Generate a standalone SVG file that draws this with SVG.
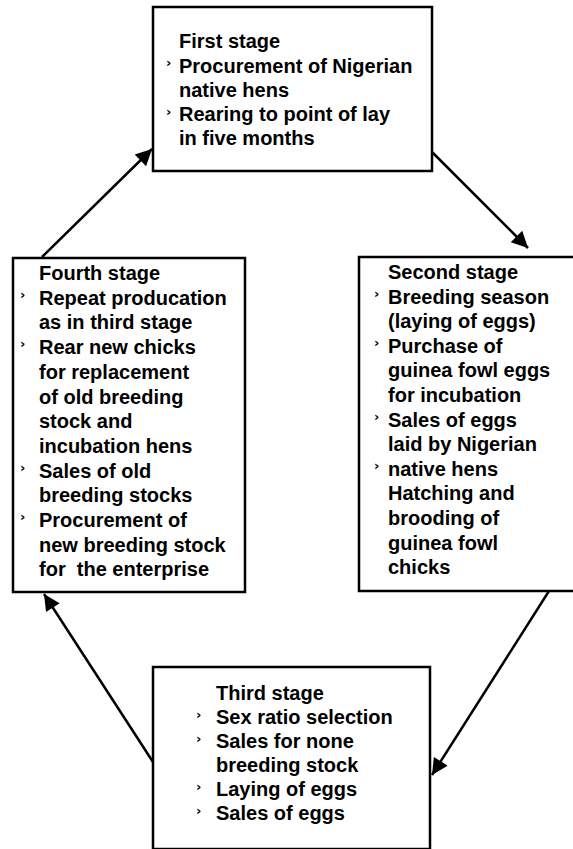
<svg xmlns="http://www.w3.org/2000/svg" width="573" height="849" viewBox="0 0 573 849">
<style>
.box{fill:#fff;stroke:#000;stroke-width:2.5}
.t{font-family:"Liberation Sans",Arial,sans-serif;font-size:20px;font-weight:bold;fill:#000;white-space:pre}
.b{font-family:"DejaVu Sans",sans-serif;font-size:13px;font-weight:bold;fill:#000}
.c{stroke:#000;stroke-width:2.5;fill:none}
</style>
<defs>
<marker id="ah" viewBox="0 0 10 10" refX="10" refY="5" markerWidth="7.5" markerHeight="6.5" markerUnits="strokeWidth" orient="auto">
<path d="M0,0 L10,5 L0,10 Z" fill="#000"/>
</marker>
</defs>
<rect width="573" height="849" fill="#fff"/>
<g id="connectors">
<line class="c" x1="432" y1="152" x2="528" y2="248" marker-end="url(#ah)"/>
<line class="c" x1="549" y1="591" x2="432" y2="775" marker-end="url(#ah)"/>
<line class="c" x1="153" y1="762" x2="44" y2="594" marker-end="url(#ah)"/>
<line class="c" x1="42" y1="257" x2="152" y2="149" marker-end="url(#ah)"/>
</g>
<g id="stage1">
<rect class="box" x="153" y="7" width="279" height="164"/>
<text class="t" x="179" y="48">First stage</text>
<text class="b" x="166" y="67">›</text>
<text class="t" x="179" y="73">Procurement of Nigerian</text>
<text class="t" x="179" y="97">native hens</text>
<text class="b" x="166" y="116">›</text>
<text class="t" x="179" y="121">Rearing to point of lay</text>
<text class="t" x="179" y="145">in five months</text>
</g>
<g id="stage2">
<rect class="box" x="359" y="257" width="216" height="334"/>
<text class="t" x="388" y="279">Second stage</text>
<text class="b" x="374" y="298">›</text>
<text class="t" x="388" y="303.6">Breeding season</text>
<text class="t" x="388" y="328.2">(laying of eggs)</text>
<text class="b" x="374" y="347">›</text>
<text class="t" x="388" y="352.8">Purchase of</text>
<text class="t" x="388" y="377.4">guinea fowl eggs</text>
<text class="t" x="388" y="402">for incubation</text>
<text class="b" x="374" y="421">›</text>
<text class="t" x="388" y="426.6">Sales of eggs</text>
<text class="t" x="388" y="451.2">laid by Nigerian</text>
<text class="b" x="374" y="470">›</text>
<text class="t" x="388" y="475.8">native hens</text>
<text class="t" x="388" y="500.4">Hatching and</text>
<text class="t" x="388" y="525">brooding of</text>
<text class="t" x="388" y="549.6">guinea fowl</text>
<text class="t" x="388" y="574.2">chicks</text>
</g>
<g id="stage3">
<rect class="box" x="153" y="667" width="277" height="182"/>
<text class="t" x="216" y="700">Third stage</text>
<text class="b" x="196" y="719">›</text>
<text class="t" x="216" y="724">Sex ratio selection</text>
<text class="b" x="196" y="743">›</text>
<text class="t" x="216" y="748">Sales for none</text>
<text class="t" x="216" y="772">breeding stock</text>
<text class="b" x="196" y="791">›</text>
<text class="t" x="216" y="796">Laying of eggs</text>
<text class="b" x="196" y="815">›</text>
<text class="t" x="216" y="820">Sales of eggs</text>
</g>
<g id="stage4">
<rect class="box" x="13" y="258" width="232" height="334"/>
<text class="t" x="39" y="280">Fourth stage</text>
<text class="b" x="20" y="299">›</text>
<text class="t" x="39" y="304.7">Repeat producation</text>
<text class="t" x="39" y="329.4">as in third stage</text>
<text class="b" x="20" y="348">›</text>
<text class="t" x="39" y="354.1">Rear new chicks</text>
<text class="t" x="39" y="378.8">for replacement</text>
<text class="t" x="39" y="403.5">of old breeding</text>
<text class="t" x="39" y="428.2">stock and</text>
<text class="t" x="39" y="452.9">incubation hens</text>
<text class="b" x="20" y="472">›</text>
<text class="t" x="39" y="477.6">Sales of old</text>
<text class="t" x="39" y="502.3">breeding stocks</text>
<text class="b" x="20" y="521">›</text>
<text class="t" x="39" y="527">Procurement of</text>
<text class="t" x="39" y="551.7">new breeding stock</text>
<text class="t" x="39" y="576.4">for  the enterprise</text>
</g>
</svg>
